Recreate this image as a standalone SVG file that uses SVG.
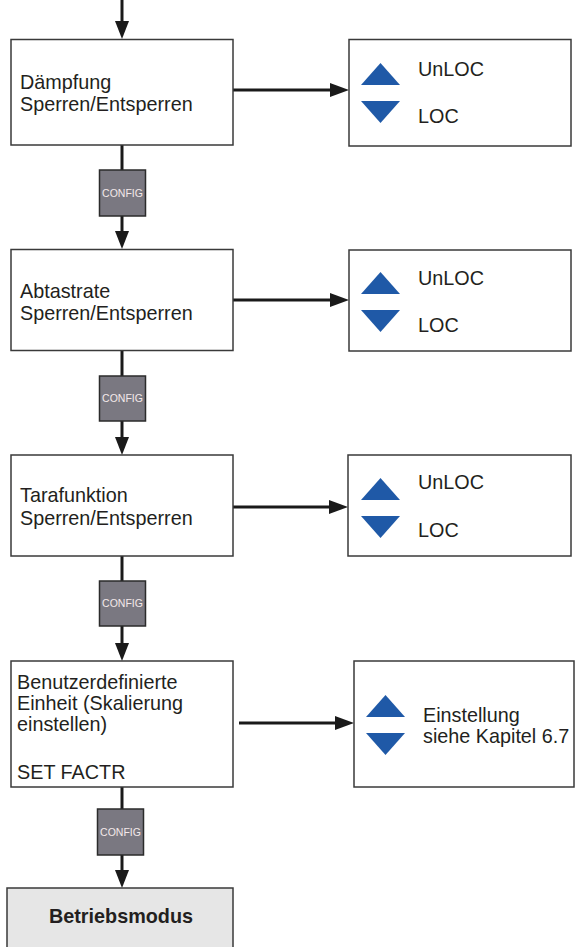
<svg xmlns="http://www.w3.org/2000/svg" width="576" height="947" viewBox="0 0 576 947">
  <style>
    .box { fill: #ffffff; stroke: #3a3a3a; stroke-width: 1.5; }
    .txt { font-family: "Liberation Sans", Arial, sans-serif; font-size: 19.8px; fill: #231f20; }
    .bold { font-weight: bold; }
    .cfg { fill: #7a7881; stroke: #2b2b2b; stroke-width: 1.5; }
    .cfgtxt { font-family: "Liberation Sans", Arial, sans-serif; font-size: 10.5px; fill: #f3e9ea; text-anchor: middle; }
    .tri { fill: #1f59a7; }
    .wire { stroke: #1a1a1a; stroke-width: 3; fill: none; }
    .head { fill: #1a1a1a; }
  </style>
  <defs>
    <!-- up / down selector arrows -->
    <polygon id="up" class="tri" points="0,22 19.5,0 39,22"/>
    <polygon id="down" class="tri" points="0,0 39,0 19.5,22"/>
  </defs>

  <!-- connectors -->
  <g id="connectors">
    <line class="wire" x1="122" y1="0" x2="122" y2="28"/>
    <polygon class="head" points="115,21 129,21 122,39"/>

    <line class="wire" x1="122" y1="145" x2="122" y2="238"/>
    <polygon class="head" points="115,231 129,231 122,249"/>
    <line class="wire" x1="122" y1="350" x2="122" y2="444"/>
    <polygon class="head" points="115,437 129,437 122,455"/>
    <line class="wire" x1="122" y1="556" x2="122" y2="650"/>
    <polygon class="head" points="115,643 129,643 122,661"/>
    <line class="wire" x1="122" y1="787" x2="122" y2="877"/>
    <polygon class="head" points="115,870 129,870 122,888"/>

    <line class="wire" x1="233" y1="90" x2="338" y2="90"/>
    <polygon class="head" points="330,83 330,97 349,90"/>
    <line class="wire" x1="233" y1="300" x2="338" y2="300"/>
    <polygon class="head" points="330,293 330,307 349,300"/>
    <line class="wire" x1="233" y1="507" x2="337" y2="507"/>
    <polygon class="head" points="329,500 329,514 348,507"/>
    <line class="wire" x1="239" y1="723" x2="343" y2="723"/>
    <polygon class="head" points="335,716 335,730 354,723"/>
  </g>

  <!-- CONFIG keys between the steps -->
  <g id="config1">
    <rect class="cfg" x="99.5" y="170" width="46" height="46"/>
    <text class="cfgtxt" x="122.5" y="196.5">CONFIG</text>
  </g>
  <g id="config2">
    <rect class="cfg" x="99.5" y="376" width="46" height="45"/>
    <text class="cfgtxt" x="122.5" y="402">CONFIG</text>
  </g>
  <g id="config3">
    <rect class="cfg" x="99.5" y="581" width="46" height="45"/>
    <text class="cfgtxt" x="122.5" y="607">CONFIG</text>
  </g>
  <g id="config4">
    <rect class="cfg" x="97.5" y="809" width="46" height="46"/>
    <text class="cfgtxt" x="120.5" y="835.5">CONFIG</text>
  </g>

  <!-- step boxes -->
  <g id="step-daempfung">
    <rect class="box" x="11" y="39.5" width="222" height="105.5"/>
    <text class="txt" x="20" y="89">Dämpfung</text>
    <text class="txt" x="20" y="111">Sperren/Entsperren</text>
  </g>
  <g id="step-abtastrate">
    <rect class="box" x="11" y="249.5" width="222" height="101"/>
    <text class="txt" x="20" y="298">Abtastrate</text>
    <text class="txt" x="20" y="320">Sperren/Entsperren</text>
  </g>
  <g id="step-tara">
    <rect class="box" x="11" y="455" width="222" height="101"/>
    <text class="txt" x="20" y="502">Tarafunktion</text>
    <text class="txt" x="20" y="525">Sperren/Entsperren</text>
  </g>
  <g id="step-einheit">
    <rect class="box" x="11" y="661" width="222" height="126"/>
    <text class="txt" x="17" y="689">Benutzerdefinierte</text>
    <text class="txt" x="17" y="710">Einheit (Skalierung</text>
    <text class="txt" x="17" y="731">einstellen)</text>
    <text class="txt" x="17" y="779">SET FACTR</text>
  </g>
  <g id="betriebsmodus">
    <rect x="7" y="888" width="226" height="70" fill="#e6e6e6" stroke="#3a3a3a" stroke-width="1.5"/>
    <text class="txt bold" x="121" y="923" text-anchor="middle">Betriebsmodus</text>
  </g>

  <!-- option boxes -->
  <g id="opt-daempfung">
    <rect class="box" x="349" y="39.5" width="222" height="106.5"/>
    <use href="#up" x="361" y="63"/>
    <use href="#down" x="361" y="101"/>
    <text class="txt" x="418" y="76">UnLOC</text>
    <text class="txt" x="418" y="123">LOC</text>
  </g>
  <g id="opt-abtastrate">
    <rect class="box" x="349" y="250" width="222" height="101"/>
    <use href="#up" x="361" y="272"/>
    <use href="#down" x="361" y="310"/>
    <text class="txt" x="418" y="285">UnLOC</text>
    <text class="txt" x="418" y="332">LOC</text>
  </g>
  <g id="opt-tara">
    <rect class="box" x="348" y="455" width="223" height="101"/>
    <use href="#up" x="361" y="478"/>
    <use href="#down" x="361" y="516"/>
    <text class="txt" x="418" y="489">UnLOC</text>
    <text class="txt" x="418" y="537">LOC</text>
  </g>
  <g id="opt-einheit">
    <rect class="box" x="354" y="661" width="220" height="126"/>
    <use href="#up" x="366" y="695"/>
    <use href="#down" x="366" y="733"/>
    <text class="txt" x="423" y="722">Einstellung</text>
    <text class="txt" x="423" y="743">siehe Kapitel 6.7</text>
  </g>
</svg>
